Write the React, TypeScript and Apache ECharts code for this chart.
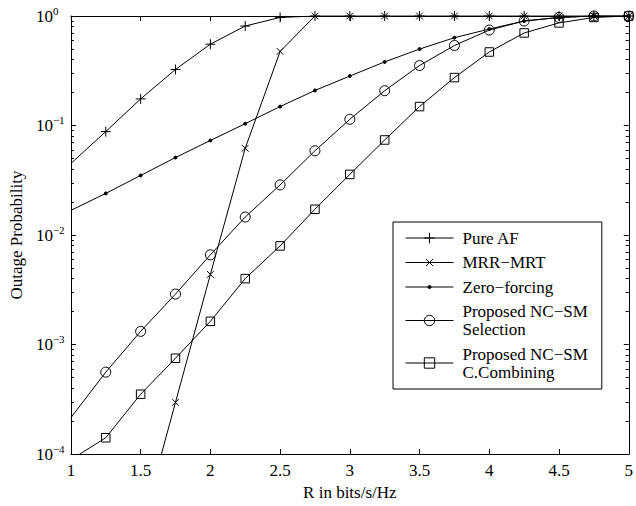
import React, { useEffect, useRef } from 'react';
import * as echarts from 'echarts';

const R = [1, 1.25, 1.5, 1.75, 2, 2.25, 2.5, 2.75, 3, 3.25, 3.5, 3.75, 4, 4.25, 4.5, 4.75, 5];
const pureAF = [0.045, 0.088, 0.175, 0.325, 0.553, 0.81, 0.97, 1, 1, 1, 1, 1, 1, 1, 1, 1, 1];
const mrrMrt = [null, null, 2.0e-5, 2.97e-4, 4.37e-3, 0.062, 0.475, 1, 1, 1, 1, 1, 1, 1, 1, 1, 1];
const zeroForcing = [0.0168, 0.024, 0.035, 0.051, 0.073, 0.104, 0.149, 0.209, 0.283, 0.381, 0.499, 0.634, 0.76, 0.9, 0.97, 1, 1];
const ncSelection = [2.15e-4, 5.6e-4, 1.32e-3, 2.89e-3, 6.6e-3, 0.0146, 0.0287, 0.0588, 0.114, 0.208, 0.353, 0.538, 0.744, 0.9, 0.97, 1, 1];
const ncCombining = [8.9e-5, 1.41e-4, 3.52e-4, 7.5e-4, 1.63e-3, 4.0e-3, 7.96e-3, 0.0172, 0.0358, 0.0738, 0.149, 0.274, 0.469, 0.7, 0.865, 0.97, 1];
const seriesNames = ['Pure AF', 'MRR\u2212MRT', 'Zero\u2212forcing', 'Proposed NC\u2212SM\nSelection', 'Proposed NC\u2212SM\nC.Combining'];
const yTickExponents = ['\u22124', '\u22123', '\u22122', '\u22121', '0'];

const FONT = 'Liberation Serif';

const PLUS = 'path://M0,5L10,5M5,0L5,10';
const CROSS = 'path://M0,0M12,12M2,2L10,10M10,2L2,10';
const DOT = 'path://M0,0M10,10M3.5,5a1.5,1.5 0 1,0 3,0a1.5,1.5 0 1,0 -3,0Z';

function toData(values: (number | null)[]) {
  const out: any[] = [];
  values.forEach((v, i) => {
    if (v == null) return;
    if (out.length === 0) out.push({ value: [R[i], v], symbol: 'none' });
    else out.push([R[i], v]);
  });
  return out;
}

export default function App() {
  const ref = useRef<HTMLDivElement>(null);
  useEffect(() => {
    if (!ref.current) return;
    const chart = echarts.init(ref.current, null, { renderer: 'svg' });
    const mk = (name: string, values: (number | null)[], symbol: string, size: number, fill: string) => ({
      name,
      type: 'line',
      data: toData(values),
      symbol,
      symbolSize: size,
      showAllSymbol: true,
      clip: true,
      lineStyle: { color: '#000', width: 1 },
      itemStyle: { color: fill, borderColor: '#000', borderWidth: 1 },
      emphasis: { disabled: true },
      z: 3,
    });
    const axisLineStyle = { show: true, lineStyle: { color: '#000', width: 1 } };
    chart.setOption({
      animation: false,
      backgroundColor: '#fff',
      grid: { left: 67, right: 4, top: 16, bottom: 45, containLabel: false },
      legend: {
        orient: 'vertical',
        left: 393,
        top: 222,
        padding: [7, 14, 8, 12],
        itemGap: 6.5,
        itemWidth: 48,
        itemHeight: 13,
        backgroundColor: '#fff',
        borderColor: '#000',
        borderWidth: 1,
        borderRadius: 0,
        selectedMode: false,
        lineStyle: { width: 1, color: '#000' },
        itemStyle: { borderWidth: 1, borderColor: '#000' },
        textStyle: { fontFamily: FONT, fontSize: 17, lineHeight: 18, color: '#000', padding: [0, 0, 0, 4] },
        data: seriesNames,
      },
      xAxis: [
        {
          type: 'value', min: 1, max: 5, interval: 0.5,
          name: 'R in bits/s/Hz', nameLocation: 'middle', nameGap: 27,
          nameTextStyle: { fontFamily: FONT, fontSize: 17, color: '#000' },
          axisLine: axisLineStyle,
          axisTick: { show: true, inside: true, length: 5, lineStyle: { color: '#000' } },
          axisLabel: { fontFamily: FONT, fontSize: 17, color: '#000', margin: 8, showMaxLabel: true, showMinLabel: true },
          splitLine: { show: false },
        },
        {
          type: 'value', min: 1, max: 5, interval: 0.5, position: 'top',
          axisLine: axisLineStyle,
          axisTick: { show: true, inside: true, length: 5, lineStyle: { color: '#000' } },
          axisLabel: { show: false },
          splitLine: { show: false },
        },
      ],
      yAxis: [
        {
          type: 'log', logBase: 10, min: 1e-4, max: 1,
          name: 'Outage Probability', nameLocation: 'middle', nameGap: 42,
          nameTextStyle: { fontFamily: FONT, fontSize: 17, color: '#000' },
          axisLine: axisLineStyle,
          axisTick: { show: true, inside: true, length: 5, lineStyle: { color: '#000' } },
          minorTick: { show: true, splitNumber: 9, length: 3, lineStyle: { color: '#000' } },
          axisLabel: {
            align: 'left', margin: 35,
            formatter: (v: number) => {
              const idx = Math.round(Math.log10(v)) + 4;
              return '{b|10}{s|' + yTickExponents[idx] + '}';
            },
            rich: {
              b: { fontFamily: FONT, fontSize: 17, color: '#000', lineHeight: 22 },
              s: { fontFamily: FONT, fontSize: 11, color: '#000', lineHeight: 10, verticalAlign: 'top' },
            },
          },
          splitLine: { show: false },
          minorSplitLine: { show: false },
        },
        {
          type: 'log', logBase: 10, min: 1e-4, max: 1, position: 'right',
          axisLine: axisLineStyle,
          axisTick: { show: true, inside: true, length: 5, lineStyle: { color: '#000' } },
          minorTick: { show: true, splitNumber: 9, length: 3, lineStyle: { color: '#000' } },
          axisLabel: { show: false },
          splitLine: { show: false },
        },
      ],
      series: [
        mk(seriesNames[0], pureAF, PLUS, 10, 'transparent'),
        mk(seriesNames[1], mrrMrt, CROSS, 10, 'transparent'),
        mk(seriesNames[2], zeroForcing, DOT, 10, '#000'),
        mk(seriesNames[3], ncSelection, 'circle', 10, 'transparent'),
        mk(seriesNames[4], ncCombining, 'rect', 8.5, 'transparent'),
      ],
    });
    return () => chart.dispose();
  }, []);
  return <div ref={ref} style={{ position: 'absolute', left: 0, top: 0, width: 636, height: 506 }} />;
}
